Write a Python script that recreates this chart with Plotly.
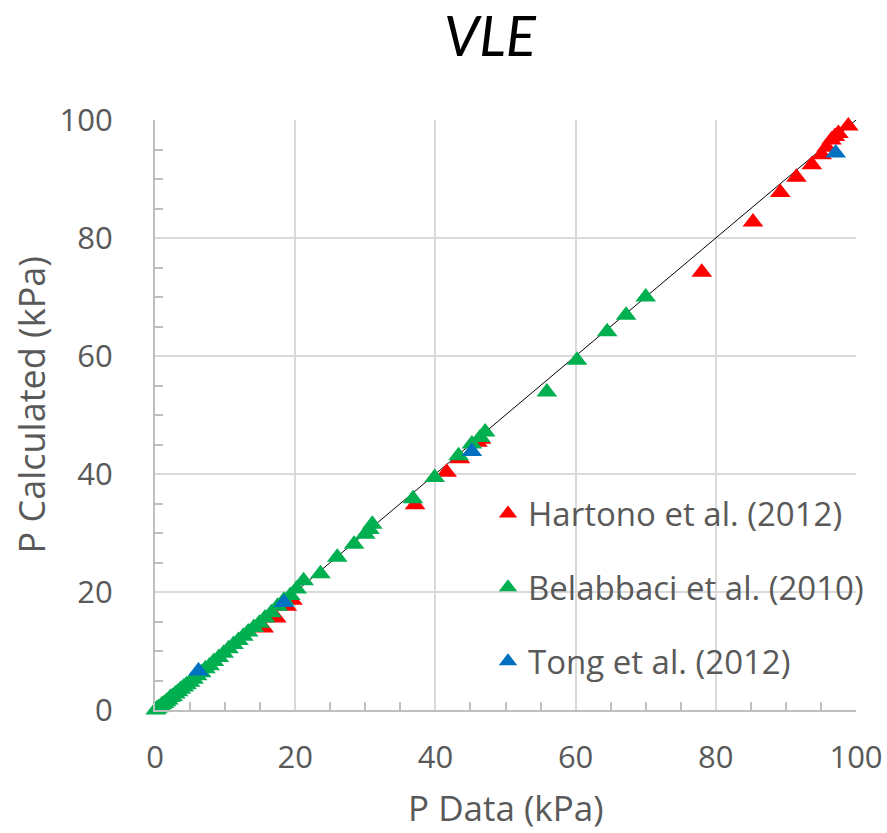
import plotly.graph_objects as go

# ---- data ----
hartono_x = [15.5, 17.3, 18.8, 19.6, 37.1, 41.6, 43.5, 46.0, 46.5,
             78.0, 85.3, 89.2, 91.5, 93.7, 95.1, 95.8, 96.5, 97.0, 97.5, 98.9]
hartono_y = [13.9, 15.6, 17.6, 18.6, 34.8, 40.3, 42.6, 45.4, 45.9,
             74.2, 82.7, 87.7, 90.3, 92.4, 94.1, 95.4, 96.6, 97.2, 97.7, 99.0]

belabbaci_x = [0.1, 0.3, 0.5, 0.8, 1.0, 1.3, 1.6, 1.9, 2.2, 2.5, 2.9, 3.3, 3.7, 4.1,
               4.5, 5.0, 5.5, 6.0, 6.6, 7.2, 7.8, 8.4, 9.1, 9.8, 10.5, 11.2, 11.9,
               12.6, 13.3, 14.1, 14.9, 15.7, 16.6, 17.5, 18.4, 19.3, 20.2, 21.2,
               23.6, 26.0, 28.4, 30.0, 30.6, 31.0, 36.8, 39.9, 43.3, 45.2, 46.4,
               47.1, 55.9, 60.2, 64.5, 67.2, 70.0]
belabbaci_y = [0.0, 0.2, 0.4, 0.6, 0.9, 1.1, 1.4, 1.7, 2.1, 2.3, 2.7, 3.1, 3.5, 3.9,
               4.3, 4.7, 5.2, 5.8, 6.3, 7.0, 7.5, 8.2, 8.9, 9.6, 10.4, 11.1, 11.8,
               12.5, 13.2, 14.0, 14.7, 15.6, 16.5, 17.6, 18.6, 19.4, 20.5, 21.9,
               23.1, 25.9, 28.1, 29.8, 30.6, 31.5, 35.8, 39.4, 43.1, 45.1, 46.2,
               47.1, 53.9, 59.3, 64.1, 66.9, 70.0]

tong_x = [6.2, 18.4, 45.2, 97.1]
tong_y = [6.6, 18.2, 43.8, 94.4]

parity_x = [0, 100]
parity_y = [0, 100]

series_names = ["Hartono et al. (2012)", "Belabbaci et al. (2010)", "Tong et al. (2012)"]
series_colors = ["#FF0000", "#00B050", "#0070C0"]

FONT = "Open Sans"
GREY = "#595959"

W, H = 887, 833
ML, MR, MT, MB = 155, 31, 120, 123
plot_w = W - ML - MR
plot_h = H - MT - MB

fig = go.Figure()
fig.add_trace(go.Scatter(x=parity_x, y=parity_y, mode="lines",
                         line=dict(color="black", width=1), showlegend=False,
                         hoverinfo="skip"))
for i, (xs, ys) in enumerate([(hartono_x, hartono_y), (belabbaci_x, belabbaci_y), (tong_x, tong_y)]):
    fig.add_trace(go.Scatter(
        x=xs, y=ys, mode="markers", name=series_names[i], legendgroup=f"g{i}",
        marker=dict(symbol="triangle-up", size=18, color=series_colors[i],
                    line=dict(width=0)),
        cliponaxis=False))

axis_common = dict(
    range=[0, 100], dtick=20, tick0=0,
    showgrid=True, gridcolor="#d9d9d9", gridwidth=1.5,
    showline=True, linecolor="#bfbfbf", linewidth=2,
    zeroline=False, ticks="", automargin=False,
    tickfont=dict(family=FONT, size=31, color=GREY),
    minor=dict(ticks="inside", dtick=5, ticklen=8, tickcolor="#bfbfbf",
               tickwidth=1.5, showgrid=False),
    fixedrange=True,
)

fig.update_layout(
    width=W, height=H,
    margin=dict(l=ML, r=MR, t=MT, b=MB, autoexpand=False),
    paper_bgcolor="white", plot_bgcolor="white",
    title=dict(text="<i>VLE</i>", font=dict(family="Lato", size=56, color="black"),
               x=490 / W, xref="container", y=1 - 36 / H, yref="container",
               xanchor="center", yanchor="middle"),
    xaxis=dict(**axis_common, ticklabelstandoff=19),
    yaxis=dict(**axis_common, ticklabelstandoff=34),
    legend=dict(x=(488 - ML) / plot_w, y=(709.5 - 485) / plot_h,
                xanchor="left", yanchor="top",
                bgcolor="rgba(0,0,0,0)", traceorder="grouped",
                tracegroupgap=28, font=dict(family=FONT, size=33, color=GREY)),
    annotations=[
        dict(text="P Data (kPa)", x=0.5, y=(709.5 - 807) / plot_h,
             xref="paper", yref="paper", xanchor="center", yanchor="middle",
             showarrow=False, font=dict(family=FONT, size=35, color=GREY)),
        dict(text="P Calculated (kPa)", textangle=-90, showarrow=False,
             x=(31 - ML) / plot_w, y=(709.5 - 405) / plot_h,
             xref="paper", yref="paper", xanchor="center", yanchor="middle",
             font=dict(family=FONT, size=36, color=GREY)),
    ],
)

fig.write_html("out.html")
